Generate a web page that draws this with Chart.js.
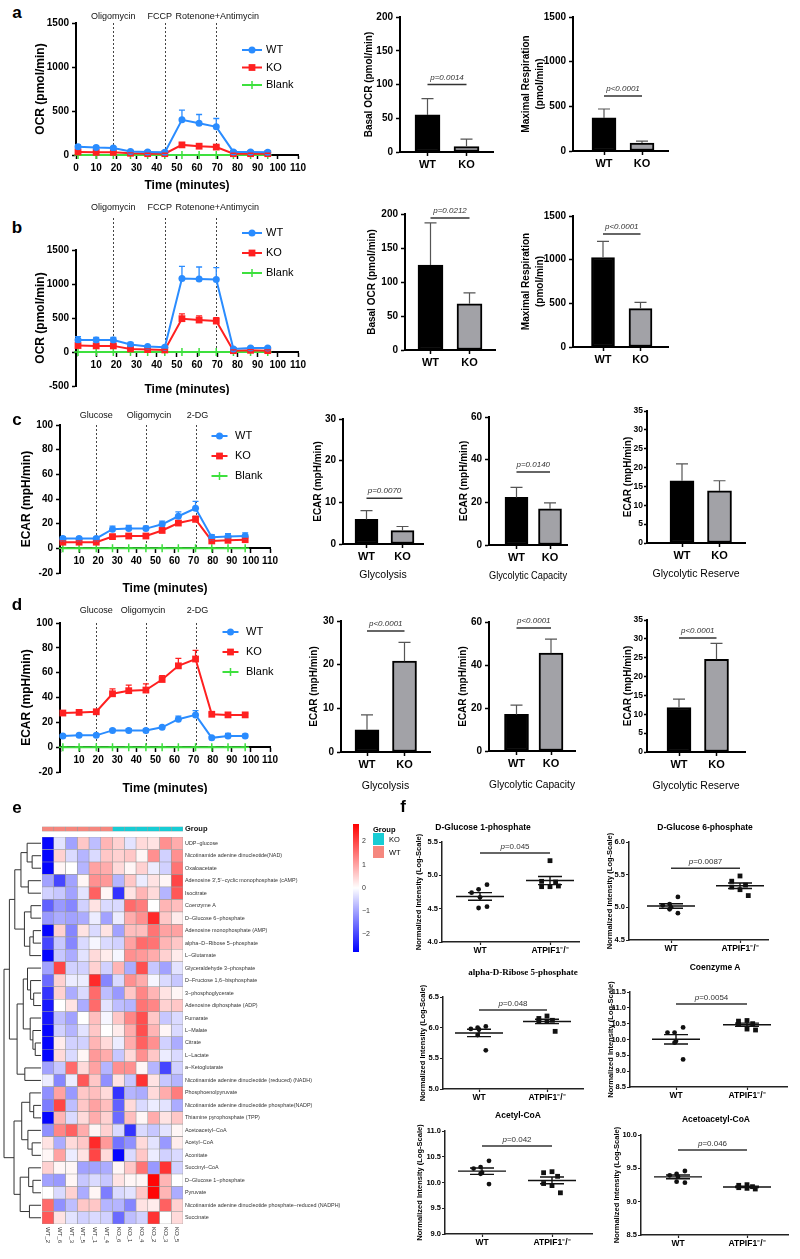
<!DOCTYPE html>
<html>
<head>
<meta charset="utf-8">
<script src="https://cdn.jsdelivr.net/npm/chart.js@4.4.1/dist/chart.umd.min.js"></script>
<style>
  body { margin: 0; background: #fff; }
  #fig { position: relative; width: 800px; height: 1259px; overflow: hidden; }
  #fig canvas { position: absolute; }
  .t { position: absolute; white-space: nowrap; line-height: 1; color: #000; }
  .sw { position: absolute; }
</style>
</head>
<body>
<div id="fig"></div>
<script>
// ---------- data ----------
const groups = ['WT', 'KO'];
const fGroups = ['WT', 'ATPIF1\u207B/\u207B'];

// a, b: OCR time courses
const timeOCR = [1, 10, 18.5, 27, 35.5, 44, 52.5, 61, 69.5, 78, 86.5, 95];
const ocrA_WT = [95, 85, 80, 40, 35, 30, 400, 360, 320, 35, 35, 30];
const ocrA_WT_err = [20, 15, 15, 10, 8, 8, 110, 100, 95, 10, 10, 8];
const ocrA_KO = [35, 30, 30, 20, 15, 15, 115, 100, 90, 15, 15, 15];
const ocrA_KO_err = [8, 8, 8, 5, 5, 5, 20, 15, 15, 5, 5, 5];
const ocrB_WT = [175, 175, 175, 110, 80, 70, 1080, 1075, 1065, 45, 60, 60];
const ocrB_WT_err = [50, 40, 40, 30, 15, 15, 180, 175, 175, 15, 15, 15];
const ocrB_KO = [95, 90, 90, 45, 35, 30, 490, 470, 455, 20, 25, 20];
const ocrB_KO_err = [20, 20, 20, 15, 10, 10, 70, 60, 50, 10, 10, 10];
const blankLine = [0, 0, 0, 0, 0, 0, 0, 0, 0, 0, 0, 0];

// c, d: ECAR time courses
const timeECAR = [1.5, 10, 19, 27.5, 36, 45, 53.5, 62, 71, 79.5, 88, 97];
const ecarC_WT = [8, 8, 8, 15.5, 16, 16, 19.5, 26, 32.5, 9, 9.5, 10];
const ecarC_WT_err = [1.5, 1, 1, 2.5, 2.5, 2, 2.5, 3.5, 5.5, 2, 2.5, 2.5];
const ecarC_KO = [5, 5, 5, 9.5, 10, 10, 14.5, 20.5, 23.5, 6, 6.5, 7];
const ecarC_KO_err = [1, 1, 1, 1.5, 1.5, 1.5, 2, 2, 2.5, 1, 1, 1];
const ecarD_WT = [9, 9.5, 9.5, 13.5, 13.5, 13.5, 16, 22.5, 26, 7.5, 9, 9];
const ecarD_WT_err = [1, 1, 1, 1, 1.5, 1.5, 1, 2.5, 3.5, 1, 2, 1.5];
const ecarD_KO = [27.5, 28, 28.5, 43, 45.5, 46, 54.5, 65.5, 71, 26.5, 26, 26];
const ecarD_KO_err = [1.5, 1, 1, 4, 4.5, 5, 3, 6, 7, 1, 1, 1];

// bar summaries [WT, KO]
const basalA = [55, 8], basalA_err = [24, 11];
const maxRespA = [370, 90], maxRespA_err = [100, 20];
const basalB = [125, 68], basalB_err = [62, 16];
const maxRespB = [1025, 440], maxRespB_err = [185, 70];
const glycoC = [5.9, 3.2], glycoC_err = [2.1, 1.0];
const capC = [22.3, 17], capC_err = [4.7, 2.7];
const resC = [16.5, 13.8], resC_err = [4.5, 2.7];
const glycoD = [5.1, 20.8], glycoD_err = [3.4, 4.3];
const capD = [17, 45.5], capD_err = [4.3, 6.5];
const resD = [11.8, 24.6], resD_err = [2.2, 4.2];

// e: heatmap
const sampleNames = ['WT_2', 'WT_6', 'WT_3', 'WT_5', 'WT_1', 'WT_4', 'KO_6', 'KO_1', 'KO_4', 'KO_2', 'KO_3', 'KO_5'];
const sampleGroup = ['WT', 'WT', 'WT', 'WT', 'WT', 'WT', 'KO', 'KO', 'KO', 'KO', 'KO', 'KO'];
const rowNames = ['UDP\u2212glucose', 'Nicotinamide adenine dinucleotide(NAD)', 'Oxaloacetate',
  "Adenosine 3',5'\u2212cyclic monophosphate (cAMP)", 'Isocitrate', 'Coenzyme A', 'D\u2212Glucose 6\u2212phosphate',
  'Adenosine monophosphate (AMP)', 'alpha\u2212D\u2212Ribose 5\u2212phosphate', 'L\u2212Glutamate',
  'Glyceraldehyde 3\u2212phosphate', 'D\u2212Fructose 1,6\u2212bisphosphate', '3\u2212phosphoglycerate',
  'Adenosine diphosphate (ADP)', 'Fumarate', 'L\u2212Malate', 'Citrate', 'L\u2212Lactate', 'a\u2212Ketoglutarate',
  'Nicotinamide adenine dinucleotide (reduced) (NADH)', 'Phosphoenolpyruvate',
  'Nicotinamide adenine dinucleotide phosphate(NADP)', 'Thiamine pyrophosphate (TPP)', 'Acetoacetyl\u2212CoA',
  'Acetyl\u2212CoA', 'Aconitate', 'Succinyl\u2212CoA', 'D\u2212Glucose 1\u2212phosphate', 'Pyruvate',
  'Nicotinamide adenine dinucleotide phosphate\u2212reduced (NADPH)', 'Succinate'];
const heatValues = [
  [-2.7, -0.3, -1.0, 0.6, -0.7, 0.8, 0.5, -0.3, 0.4, 0.3, 1.2, 0.9],
  [-2.7, 0.5, -0.4, -0.8, -0.4, 0.6, 0.5, 0.6, 0.1, 1.2, -0.5, 1.2],
  [-2.7, 0.1, 0.0, -0.8, 1.0, 0.9, 0.4, 0.1, 0.5, -0.2, -0.5, 1.5],
  [-1.0, -2.0, -1.0, 0.1, 1.2, 1.1, -0.8, 0.6, -0.2, 0.3, 0.1, 2.0],
  [-0.5, -0.6, -1.0, -0.3, 1.7, 0.1, -2.2, 0.3, 0.8, 0.4, -0.8, 1.8],
  [-1.7, -1.1, -1.3, -0.5, 0.3, -0.4, -0.4, 1.6, 1.4, 0.0, 0.8, 0.7],
  [-1.1, -0.9, -1.0, -0.9, -0.2, -1.0, -0.2, 0.9, 1.2, 2.3, 0.6, 0.2],
  [-2.7, 0.5, -1.3, 0.3, -0.4, 0.3, -1.0, 0.7, 0.7, 1.5, 1.0, 1.0],
  [-2.0, -0.6, -1.3, -0.4, -0.1, -0.4, -0.5, 1.0, 1.6, 1.5, 0.8, 0.6],
  [-2.7, -0.6, -0.9, -0.3, 0.4, 0.2, -0.1, 1.2, 1.1, 0.9, 0.5, 0.2],
  [-1.0, 2.0, -0.5, -0.5, 0.5, -0.5, 0.8, -0.9, 1.9, -0.6, -1.0, -0.3],
  [-1.6, 0.5, -0.2, -0.2, 2.3, -1.3, -0.4, 1.2, 0.9, -0.1, -0.4, -0.6],
  [-2.2, 0.5, -0.9, -0.4, 1.6, -0.7, -1.1, 0.6, 1.3, 0.8, 0.3, 0.1],
  [-2.5, 0.0, 0.3, -0.9, 1.6, -0.3, -0.7, -0.8, 1.5, 1.3, 0.5, 0.6],
  [-2.5, -0.7, -1.0, 0.0, 0.7, -0.1, 0.6, 1.3, 1.9, 0.6, -0.6, -0.4],
  [-2.7, -0.5, -0.8, -0.3, 0.6, 0.0, 0.2, 0.9, 1.9, 0.8, 0.1, -0.4],
  [-2.7, 0.2, -0.5, -0.5, 0.8, 0.4, -0.2, 0.9, 1.7, 1.2, -0.5, -0.9],
  [-2.7, 0.4, -0.4, 0.1, 1.1, 0.9, -0.6, 0.4, 1.2, 0.6, -0.2, -0.4],
  [-1.0, -0.6, 1.6, 0.4, 1.0, -0.8, 1.2, 1.2, 0.1, -0.8, -2.0, -0.5],
  [-0.2, -1.3, -0.2, 1.8, 0.6, -1.2, 0.3, -0.6, 2.2, 0.3, -0.6, -0.8],
  [-1.2, 1.0, -1.1, 0.6, 0.7, 0.4, -2.2, -0.8, -0.9, 0.4, 0.9, 1.4],
  [-1.4, 2.0, -0.7, 0.6, 1.0, 0.7, -1.7, 0.4, -0.4, -0.2, -0.3, -0.9],
  [-2.7, 0.8, -0.4, 0.4, 0.9, 0.5, -1.6, 0.7, 0.1, 0.9, 0.3, 0.6],
  [-1.2, 1.3, 1.7, 0.9, 0.1, 0.5, -0.4, -2.2, -0.4, -0.6, -0.3, 0.1],
  [0.3, -0.9, 0.4, 0.6, 2.3, 1.1, -1.5, -1.2, 0.4, -0.3, -1.1, 0.2],
  [0.1, 1.0, -0.2, 0.3, 2.0, 0.4, -2.7, -0.4, 0.6, -0.2, -0.5, -0.4],
  [0.5, 0.1, 0.1, -1.0, -1.0, -0.9, 0.1, 0.6, 1.5, -1.1, 2.2, -0.5],
  [-1.0, -1.1, 0.1, -0.6, -0.4, -0.6, 0.3, 0.1, 0.1, 2.7, 0.8, 0.0],
  [0.0, -0.4, 0.5, -0.9, 0.1, -1.4, -0.4, -0.3, 0.6, 2.7, 0.8, -0.9],
  [1.6, -1.2, -0.7, 0.6, 0.6, -0.8, -0.8, -1.3, 0.3, 0.2, 1.7, 0.5],
  [1.8, 0.3, -0.3, -0.5, -0.4, -0.5, -1.6, -0.7, -0.5, 2.2, 0.0, 0.4]
];
const heatLimit = 2.75;
const heatTicks = [-2, -1, 0, 1, 2];
// row clustering: [height, left, right], leaves are row indices
const dendroTree = [9.6,
  [8.2,
    [6.8,
      [5.2, [3.6, 0, [2.3, 1, 2]], [3.3, 3, 4]],
      [4.3, [2.6, 5, 6], [2.9, [2.0, 7, 8], 9]]],
    [6.2,
      [4.6, [3.5, 10, [2.7, 11, [1.9, 12, 13]]], [2.8, 14, [2.1, 15, [1.5, 16, 17]]]],
      [4.2, 18, 19]]],
  [7.0,
    [5.0, [2.9, 20, [1.9, 21, 22]], [3.4, 23, [2.3, 24, 25]]],
    [5.4, [3.2, 26, [2.1, 27, 28]], [3.0, 29, 30]]]];

// f: metabolite dot plots
const g1p_WT = [4.86, 4.79, 4.74, 4.67, 4.51, 4.53], g1p_KO = [5.22, 4.91, 4.90, 4.83, 4.83, 4.84];
const g6p_WT = [5.16, 5.05, 5.03, 5.00, 4.97, 4.91], g6p_KO = [5.48, 5.40, 5.34, 5.31, 5.27, 5.18];
const r5p_WT = [6.02, 6.00, 5.98, 5.97, 5.88, 5.63], r5p_KO = [6.19, 6.15, 6.12, 6.11, 6.10, 5.94];
const coa_WT = [10.38, 10.22, 10.22, 9.95, 9.90, 9.37], coa_KO = [10.60, 10.58, 10.50, 10.48, 10.33, 10.30];
const accoa_WT = [10.42, 10.30, 10.27, 10.19, 10.17, 9.97], accoa_KO = [10.21, 10.19, 10.12, 9.98, 9.94, 9.80];
const acac_WT = [9.46, 9.415, 9.395, 9.375, 9.30, 9.285], acac_KO = [9.255, 9.245, 9.225, 9.21, 9.20, 9.19];
const jitterWT = [0.1, -0.02, -0.12, 0.0, -0.02, 0.1];
const jitterKO = [0.0, -0.12, 0.08, -0.12, 0.0, 0.12];

// ---------- helpers ----------
const FONT = '"Liberation Sans", Arial, Helvetica, sans-serif';
const COL = { wt: '#2a8cff', ko: '#ff2020', blank: '#3ee03e', wtBar: '#000000', koBar: '#a2a2a7' };
Chart.defaults.font.family = FONT;
Chart.defaults.font.size = 10;
Chart.defaults.font.weight = 'bold';
Chart.defaults.color = '#000';
Chart.defaults.plugins.legend.display = false;
Chart.defaults.plugins.tooltip.enabled = false;

const FIG = document.getElementById('fig');

function txt(html, x, y, font, align) {
  const d = document.createElement('div');
  d.className = 't';
  d.style.left = x + 'px';
  d.style.top = y + 'px';
  d.style.font = font;
  d.style.transform = align === 'left' ? 'translate(0,-50%)' : 'translate(-50%,-50%)';
  d.innerHTML = html;
  FIG.appendChild(d);
}

function place(x, y, w, h) {
  const c = document.createElement('canvas');
  c.width = w; c.height = h;
  c.style.left = x + 'px'; c.style.top = y + 'px';
  c.style.width = w + 'px'; c.style.height = h + 'px';
  FIG.appendChild(c);
  return c;
}

// plot = chart area in page px, m = [left, top, right, bottom] margins
function makeChart(plot, m, cfg, xh) {
  const [x0, y0, x1, y1] = plot, [l, t, r, b] = m;
  const c = place(x0 - l, y0 - t, x1 - x0 + l + r, y1 - y0 + t + b);
  const o = cfg.options;
  o.responsive = false; o.animation = false; o.devicePixelRatio = 1;
  o.layout = { padding: { left: 0, top: t, right: r, bottom: xh === undefined ? 0 : b } };
  o.scales.y.afterFit = s => { s.width = l; };
  o.scales.x.afterFit = s => { s.height = xh === undefined ? b : xh; };
  return new Chart(c, cfg);
}

function axis(extra, thin, tl) {
  return Object.assign({
    offset: false,
    grid: { drawOnChartArea: false, drawTicks: true, tickLength: tl || (thin ? 3 : 4), tickColor: thin ? '#222' : '#000', tickWidth: thin ? 1.2 : 1.5, offset: false },
    border: { display: true, color: thin ? '#222' : '#000', width: thin ? 1.5 : 2 }
  }, extra);
}

function marker(ctx, style, x, y, r) {
  if (style === 'circle') { ctx.beginPath(); ctx.arc(x, y, r, 0, Math.PI * 2); ctx.fill(); }
  else if (style === 'rect') { const h = r * Math.SQRT1_2; ctx.fillRect(x - h, y - h, 2 * h, 2 * h); }
  else {
    ctx.lineWidth = 1.5; ctx.beginPath();
    ctx.moveTo(x - r, y); ctx.lineTo(x + r, y); ctx.moveTo(x, y - r); ctx.lineTo(x, y + r); ctx.stroke();
  }
}

// error bars (upper only) from dataset.errors
Chart.register({
  id: 'errorBars',
  afterDatasetsDraw(chart) {
    const ctx = chart.ctx, ys = chart.scales.y;
    chart.data.datasets.forEach((ds, i) => {
      if (!ds.errors) return;
      const meta = chart.getDatasetMeta(i);
      ctx.save();
      ctx.strokeStyle = ds.errorColor || ds.borderColor;
      ctx.lineWidth = ds.errorWidth || 1.2;
      meta.data.forEach((el, j) => {
        const v = ds.data[j], val = typeof v === 'object' ? v.y : v;
        const top = ys.getPixelForValue(val + ds.errors[j]);
        const cw = ds.capWidth || 4;
        ctx.beginPath();
        ctx.moveTo(el.x, el.y); ctx.lineTo(el.x, top);
        ctx.moveTo(el.x - cw, top); ctx.lineTo(el.x + cw, top);
        ctx.stroke();
      });
      ctx.restore();
    });
  }
});

function sigPlugin(s) {
  return {
    id: 'sig',
    afterDraw(chart) {
      const { ctx, scales: { x, y } } = chart;
      const py = y.getPixelForValue(s.y), xa = x.getPixelForValue(1), xb = x.getPixelForValue(2);
      ctx.save();
      ctx.strokeStyle = '#333'; ctx.lineWidth = 1.5;
      ctx.beginPath(); ctx.moveTo(xa, py); ctx.lineTo(xb, py); ctx.stroke();
      ctx.fillStyle = '#333'; ctx.textBaseline = 'bottom'; ctx.textAlign = 'left';
      const f1 = `italic normal ${s.size}px ${FONT}`, f2 = s.allItalic ? f1 : `normal normal ${s.size}px ${FONT}`;
      const rest = s.text.slice(1);
      ctx.font = f1; const w1 = ctx.measureText('p').width;
      ctx.font = f2; const w2 = ctx.measureText(rest).width;
      const x0 = (xa + xb) / 2 - (w1 + w2) / 2;
      ctx.font = f1; ctx.fillText('p', x0, py - s.gap);
      ctx.font = f2; ctx.fillText(rest, x0 + w1, py - s.gap);
      ctx.restore();
    }
  };
}

function injectPlugin(s) {
  return {
    id: 'inject',
    beforeDatasetsDraw(chart) {
      const { ctx, chartArea: ca, scales: { x, y } } = chart;
      ctx.save();
      ctx.strokeStyle = '#444'; ctx.lineWidth = 1; ctx.setLineDash([2, 2]);
      s.times.forEach(t => {
        const px = Math.round(x.getPixelForValue(t)) + 0.5;
        ctx.beginPath(); ctx.moveTo(px, ca.top + s.lineTop); ctx.lineTo(px, y.getPixelForValue(0)); ctx.stroke();
      });
      ctx.restore();
    },
    afterDraw(chart) {
      const { ctx, chartArea: ca, scales: { x } } = chart;
      ctx.save();
      ctx.fillStyle = '#111'; ctx.font = `normal 9px ${FONT}`;
      ctx.textAlign = 'center'; ctx.textBaseline = 'middle';
      s.labels.forEach((lab, i) => ctx.fillText(lab, x.getPixelForValue(s.times[i]) + s.dx[i], ca.top + s.labelTop));
      ctx.restore();
    }
  };
}

function legendPlugin(s) {
  return {
    id: 'lgd',
    afterDraw(chart) {
      const { ctx, chartArea: ca } = chart;
      chart.data.datasets.forEach((ds, i) => {
        const cx = ca.left + s.x, cy = ca.top + s.y + i * s.dy;
        ctx.save();
        ctx.strokeStyle = ds.borderColor; ctx.fillStyle = ds.borderColor; ctx.lineWidth = 2;
        ctx.beginPath(); ctx.moveTo(cx - s.len / 2, cy); ctx.lineTo(cx + s.len / 2, cy); ctx.stroke();
        marker(ctx, ds.pointStyle, cx, cy, ds.pointRadius);
        ctx.fillStyle = '#000'; ctx.font = `normal 11px ${FONT}`;
        ctx.textAlign = 'left'; ctx.textBaseline = 'middle';
        ctx.fillText(ds.label, cx + s.tx, cy);
        ctx.restore();
      });
    }
  };
}

function meanSemPlugin(s) {
  return {
    id: 'msem',
    afterDatasetsDraw(chart) {
      const { ctx, scales: { x, y } } = chart;
      ctx.save(); ctx.strokeStyle = '#111'; ctx.lineWidth = 1.4;
      chart.data.datasets.forEach(ds => {
        const v = ds.data.map(p => p.y), n = v.length;
        const mean = v.reduce((a, b) => a + b, 0) / n;
        const sem = Math.sqrt(v.reduce((a, b) => a + (b - mean) ** 2, 0) / (n - 1) / n);
        const cx = x.getPixelForValue(ds.center);
        const ym = y.getPixelForValue(mean), yh = y.getPixelForValue(mean + sem), yl = y.getPixelForValue(mean - sem);
        ctx.beginPath();
        ctx.moveTo(cx - s.mw, ym); ctx.lineTo(cx + s.mw, ym);
        ctx.moveTo(cx - s.cw, yh); ctx.lineTo(cx + s.cw, yh);
        ctx.moveTo(cx - s.cw, yl); ctx.lineTo(cx + s.cw, yl);
        ctx.moveTo(cx, yl); ctx.lineTo(cx, yh);
        ctx.stroke();
      });
      ctx.restore();
    }
  };
}

function dendroPlugin(tree, hmax, rootX) {
  return {
    id: 'dendro',
    afterDraw(chart) {
      const { ctx, chartArea: ca, scales: { y } } = chart;
      const edge = ca.left - 1, s = (edge - rootX) / hmax;
      ctx.save(); ctx.strokeStyle = '#333'; ctx.lineWidth = 1;
      const walk = n => {
        if (typeof n === 'number') return [edge, y.getPixelForValue(n)];
        const a = walk(n[1]), b = walk(n[2]), x = edge - n[0] * s;
        ctx.beginPath();
        ctx.moveTo(a[0], a[1]); ctx.lineTo(x, a[1]); ctx.lineTo(x, b[1]); ctx.lineTo(b[0], b[1]);
        ctx.stroke();
        return [x, (a[1] + b[1]) / 2];
      };
      walk(tree);
      ctx.restore();
    }
  };
}

function colLabelPlugin(labels) {
  return {
    id: 'collab',
    afterDraw(chart) {
      const { ctx, chartArea: ca, scales: { x } } = chart;
      ctx.save();
      ctx.fillStyle = '#333'; ctx.font = `normal 6px ${FONT}`;
      ctx.textAlign = 'left'; ctx.textBaseline = 'middle';
      labels.forEach((s, j) => {
        ctx.save();
        ctx.translate(x.getPixelForValue(j + 0.5), ca.bottom + 3);
        ctx.rotate(Math.PI / 2);
        ctx.fillText(s, 0, 0);
        ctx.restore();
      });
      ctx.restore();
    }
  };
}

function heatColor(v) {
  const t = Math.max(-1, Math.min(1, v / heatLimit));
  if (t < 0) { const c = Math.round(255 * (1 + t)); return `rgb(${c},${c},255)`; }
  const c = Math.round(255 * (1 - t)); return `rgb(255,${c},${c})`;
}

// ---------- chart builders ----------
function lineChart(L, times, wt, wtErr, ko, koErr, blank, yr, yTitle, inj, lg) {
  const pts = a => a.map((v, i) => ({ x: times[i], y: v }));
  const ds = (label, d, err, col, style, r) => ({
    label, data: pts(d), errors: err, borderColor: col, backgroundColor: col,
    pointBackgroundColor: col, pointBorderColor: col, borderWidth: 2, pointStyle: style,
    pointRadius: r, pointBorderWidth: style === 'cross' ? 1.5 : 0, tension: 0, clip: false,
    capWidth: 3, errorWidth: 1.3
  });
  const valuePos = yr[0] < 0;
  return makeChart(L.plot, L.m, {
    type: 'line',
    data: { datasets: [
      ds('WT', wt, wtErr, COL.wt, 'circle', 3.5),
      ds('KO', ko, koErr, COL.ko, 'rect', 4.8),
      ds('Blank', blank, null, COL.blank, 'cross', 4)
    ] },
    options: { scales: {
      x: axis({ type: 'linear', min: 0, max: 110, position: valuePos ? { y: 0 } : 'bottom',
        ticks: { stepSize: 10, autoSkip: false, maxRotation: 0, padding: 3, callback: v => (valuePos && v === 0) ? '' : String(v) },
        title: { display: true, text: 'Time (minutes)', font: { size: 12 }, padding: 0 } }),
      y: axis({ min: yr[0], max: yr[1], ticks: { stepSize: yr[2], padding: 3, callback: v => String(v) },
        title: { display: true, text: yTitle, font: { size: 12 }, padding: 0 } })
    } },
    plugins: [injectPlugin(inj), legendPlugin(lg)]
  }, L.xh);
}

function barChart(L, vals, errs, yr, yTitle, xTitle, pText) {
  const k = L.c2 - L.c1, xmin = 1 - (L.c1 - L.x0) / k, xmax = xmin + (L.x1 - L.x0) / k;
  const plugins = pText ? [sigPlugin({ y: L.sigY, text: pText, size: 8, allItalic: true, gap: 3 })] : [];
  return makeChart([L.x0, L.y0, L.x1, L.y1], L.m, {
    type: 'bar',
    data: { datasets: [{
      data: vals.map((v, i) => ({ x: i + 1, y: v })), errors: errs,
      backgroundColor: [COL.wtBar, COL.koBar], borderColor: '#000', borderWidth: 2, borderSkipped: false,
      barThickness: L.bw, errorColor: '#555', capWidth: 6, errorWidth: 1.2
    }] },
    options: { scales: {
      x: axis({ type: 'linear', min: xmin, max: xmax,
        afterBuildTicks: s => { s.ticks = [{ value: 1 }, { value: 2 }]; },
        ticks: { autoSkip: false, maxRotation: 0, padding: 2, font: { size: 11 }, callback: v => groups[v - 1] },
        title: { display: !!xTitle, text: xTitle || '', font: { size: 10.5, weight: 'normal' }, padding: 0 } }),
      y: axis({ min: yr[0], max: yr[1],
        ticks: { stepSize: yr[2], padding: L.tp || 3, font: { size: L.tf || 10 }, callback: v => String(v) },
        title: { display: true, text: yTitle, font: { size: 10, lineHeight: 1.4 }, padding: 0 } }, false, L.tl)
    } },
    plugins
  });
}

function dotChart(L, wt, ko, yr, pText) {
  const k = L.c2 - L.c1, xmin = 1 - (L.c1 - L.x0) / k, xmax = xmin + (L.x1 - L.x0) / k;
  const mk = (vals, c, jit, style, r) => ({
    data: vals.map((v, i) => ({ x: c + jit[i], y: v })), center: c, pointStyle: style, pointRadius: r,
    backgroundColor: '#111', borderColor: '#111', pointBorderWidth: 0, clip: false
  });
  return makeChart([L.x0, L.y0, L.x1, L.y1], L.m, {
    type: 'scatter',
    data: { datasets: [mk(wt, 1, jitterWT, 'circle', 2.4), mk(ko, 2, jitterKO, 'rect', 3.4)] },
    options: { scales: {
      x: axis({ type: 'linear', min: xmin, max: xmax,
        afterBuildTicks: s => { s.ticks = [{ value: 1 }, { value: 2 }]; },
        ticks: { autoSkip: false, maxRotation: 0, padding: 1, font: { size: 8.5 }, callback: v => fGroups[v - 1] } }, true),
      y: axis({ min: yr[0], max: yr[1], ticks: { stepSize: 0.5, padding: 1, font: { size: 7.5 }, callback: v => v.toFixed(1) },
        title: { display: true, text: 'Normalized Intensity (Log-Scale)', font: { size: 7.5 }, padding: 0 } }, true)
    } },
    plugins: [meanSemPlugin({ mw: 24, cw: 12 }), sigPlugin({ y: L.sigY, text: pText, size: 8, allItalic: false, gap: 2 })]
  });
}

// ---------- panels a-d ----------
lineChart({ plot: [76, 23, 298, 155], m: [43, 13, 14, 38] }, timeOCR,
  ocrA_WT, ocrA_WT_err, ocrA_KO, ocrA_KO_err, blankLine, [0, 1500, 500], 'OCR (pmol/min)',
  { times: [18.5, 44, 69.5], labels: ['Oligomycin', 'FCCP', 'Rotenone+Antimycin'], dx: [0, -5, 1], lineTop: 0, labelTop: -6 },
  { x: 176, y: 27, dy: 17.5, len: 20, tx: 14 });

lineChart({ plot: [76, 250, 298, 389], m: [43, 50, 14, 6], xh: 45 }, timeOCR,
  ocrB_WT, ocrB_WT_err, ocrB_KO, ocrB_KO_err, blankLine, [-500, 1500, 500], 'OCR (pmol/min)',
  { times: [18.5, 44, 69.5], labels: ['Oligomycin', 'FCCP', 'Rotenone+Antimycin'], dx: [0, -5, 1], lineTop: -32, labelTop: -42 },
  { x: 176, y: -17, dy: 20, len: 20, tx: 14 });

lineChart({ plot: [60, 425, 270, 573], m: [41, 16, 14, 25], xh: 48 }, timeECAR,
  ecarC_WT, ecarC_WT_err, ecarC_KO, ecarC_KO_err, blankLine, [-20, 100, 20], 'ECAR (mpH/min)',
  { times: [19, 45, 71], labels: ['Glucose', 'Oligomycin', '2-DG'], dx: [0, 3, 2], lineTop: 0, labelTop: -9 },
  { x: 159.5, y: 11, dy: 20, len: 16, tx: 15.5 });

lineChart({ plot: [60, 623, 270, 772], m: [41, 20, 14, 22], xh: 49 }, timeECAR,
  ecarD_WT, ecarD_WT_err, ecarD_KO, ecarD_KO_err, blankLine, [-20, 100, 20], 'ECAR (mpH/min)',
  { times: [19, 45, 71], labels: ['Glucose', 'Oligomycin', '2-DG'], dx: [0, -3, 2], lineTop: 0, labelTop: -12 },
  { x: 170.5, y: 9, dy: 20, len: 16, tx: 15.5 });

barChart({ x0: 400, y0: 17, x1: 493, y1: 152, c1: 427.5, c2: 466.5, bw: 25, m: [38, 10, 6, 20], sigY: 100 },
  basalA, basalA_err, [0, 200, 50], 'Basal OCR (pmol/min)', null, 'p=0.0014');
barChart({ x0: 573, y0: 17, x1: 668, y1: 151, c1: 604, c2: 642, bw: 24, m: [54, 10, 6, 20], sigY: 615 },
  maxRespA, maxRespA_err, [0, 1500, 500], ['Maximal Respiration', '(pmol/min)'], null, 'p<0.0001');
barChart({ x0: 405, y0: 214, x1: 495, y1: 350, c1: 430.5, c2: 469.5, bw: 25, m: [40, 15, 6, 20], sigY: 194 },
  basalB, basalB_err, [0, 200, 50], 'Basal OCR (pmol/min)', null, 'p=0.0212');
barChart({ x0: 573, y0: 216, x1: 668, y1: 347, c1: 603, c2: 640.5, bw: 23, m: [54, 10, 6, 20], sigY: 1294 },
  maxRespB, maxRespB_err, [0, 1500, 500], ['Maximal Respiration', '(pmol/min)'], null, 'p<0.0001');

barChart({ x0: 343, y0: 419, x1: 423, y1: 544, c1: 366.5, c2: 402.5, bw: 23, m: [32, 10, 6, 37], sigY: 11 },
  glycoC, glycoC_err, [0, 30, 10], 'ECAR (mpH/min)', 'Glycolysis', 'p=0.0070');
barChart({ x0: 489, y0: 417, x1: 567, y1: 545, c1: 516.5, c2: 550, bw: 23, m: [32, 10, 6, 37], sigY: 34.2 },
  capC, capC_err, [0, 60, 20], 'ECAR (mpH/min)', 'Glycolytic Capacity', 'p=0.0140');
barChart({ x0: 647, y0: 411, x1: 745, y1: 543, c1: 682, c2: 719.5, bw: 24, m: [26, 10, 6, 37], tf: 8.5, tp: 1, tl: 3 },
  resC, resC_err, [0, 35, 5], 'ECAR (mpH/min)', 'Glycolytic Reserve', null);

barChart({ x0: 341, y0: 621, x1: 430, y1: 752, c1: 367, c2: 404.5, bw: 24, m: [34, 10, 6, 40], sigY: 27.7 },
  glycoD, glycoD_err, [0, 30, 10], 'ECAR (mpH/min)', 'Glycolysis', 'p<0.0001');
barChart({ x0: 489, y0: 622, x1: 575, y1: 751, c1: 516.5, c2: 551, bw: 24, m: [33, 10, 6, 40], sigY: 57.2 },
  capD, capD_err, [0, 60, 20], 'ECAR (mpH/min)', 'Glycolytic Capacity', 'p<0.0001');
barChart({ x0: 647, y0: 620, x1: 745, y1: 752, c1: 679, c2: 716.5, bw: 24, m: [26, 10, 6, 40], sigY: 30.2, tf: 8.5, tp: 1, tl: 3 },
  resD, resD_err, [0, 35, 5], 'ECAR (mpH/min)', 'Glycolytic Reserve', 'p<0.0001');

// ---------- panel e: heatmap ----------
new Chart(place(0, 830, 360, 425), {
  type: 'bar',
  data: {
    labels: rowNames,
    datasets: sampleNames.map((nm, j) => ({
      label: nm, data: rowNames.map(() => 1),
      backgroundColor: heatValues.map(r => heatColor(r[j])),
      borderColor: '#9b9b9b', borderWidth: 0.6, borderSkipped: false,
      barPercentage: 1, categoryPercentage: 1
    }))
  },
  options: {
    indexAxis: 'y', responsive: false, animation: false, devicePixelRatio: 1,
    layout: { padding: { left: 42, top: 7, right: 0, bottom: 31 } },
    scales: {
      x: { stacked: true, min: 0, max: 12, display: false },
      y: { stacked: true, position: 'right', afterFit: s => { s.width = 177; },
        grid: { display: false, tickLength: 0 }, border: { display: false },
        ticks: { autoSkip: false, padding: 2, color: '#333', font: { size: 5.4, weight: 'normal' } } }
    }
  },
  plugins: [dendroPlugin(dendroTree, 9.6, 4), colLabelPlugin(sampleNames)]
});

new Chart(place(0, 820, 360, 18), {
  type: 'bar',
  data: {
    labels: ['Group'],
    datasets: sampleGroup.map(g => ({
      data: [1], backgroundColor: g === 'WT' ? '#f5877e' : '#17ccd4',
      borderColor: '#9b9b9b', borderWidth: 0.6, borderSkipped: false, barPercentage: 1, categoryPercentage: 1
    }))
  },
  options: {
    indexAxis: 'y', responsive: false, animation: false, devicePixelRatio: 1,
    layout: { padding: { left: 42, top: 5, right: 0, bottom: 5 } },
    scales: {
      x: { stacked: true, min: 0, max: 12, display: false },
      y: { stacked: true, position: 'right', afterFit: s => { s.width = 177; },
        grid: { display: false, tickLength: 0 }, border: { display: false },
        ticks: { padding: 2, color: '#111', font: { size: 7.5, weight: 'bold' } } }
    }
  }
});

// colour key
new Chart(place(348, 815, 32, 145), {
  type: 'bar',
  data: {
    labels: [''],
    datasets: [{
      data: [[-heatLimit, heatLimit]], borderWidth: 0, barPercentage: 1, categoryPercentage: 1,
      backgroundColor: c => {
        const ch = c.chart, ys = ch.scales.y;
        if (!ys || !ch.chartArea) return '#fff';
        const g = ch.ctx.createLinearGradient(0, ys.getPixelForValue(heatLimit), 0, ys.getPixelForValue(-heatLimit));
        g.addColorStop(0, heatColor(heatLimit)); g.addColorStop(0.5, heatColor(0)); g.addColorStop(1, heatColor(-heatLimit));
        return g;
      }
    }]
  },
  options: {
    responsive: false, animation: false, devicePixelRatio: 1,
    layout: { padding: { left: 5, top: 9, right: 0, bottom: 8 } },
    scales: {
      x: { display: false },
      y: { position: 'right', min: -heatLimit, max: heatLimit, afterFit: s => { s.width = 21; },
        afterBuildTicks: s => { s.ticks = heatTicks.map(v => ({ value: v })); },
        grid: { display: false, tickLength: 0 }, border: { display: false },
        ticks: { padding: 3, color: '#333', font: { size: 7, weight: 'normal' }, callback: v => v < 0 ? '\u2212' + (-v) : String(v) } }
    }
  }
});

// ---------- panel f: dot plots ----------
dotChart({ x0: 442, y0: 842, x1: 579, y1: 942, c1: 480, c2: 550, m: [28, 20, 8, 22], sigY: 5.335 }, g1p_WT, g1p_KO, [4.0, 5.5], 'p=0.045');
dotChart({ x0: 629, y0: 842, x1: 768, y1: 940, c1: 671, c2: 740, m: [24, 20, 8, 22], sigY: 5.60 }, g6p_WT, g6p_KO, [4.5, 6.0], 'p=0.0087');
dotChart({ x0: 443, y0: 997, x1: 583, y1: 1089, c1: 479, c2: 547, m: [25, 25, 8, 22], sigY: 6.29 }, r5p_WT, r5p_KO, [5.0, 6.5], 'p=0.048');
dotChart({ x0: 630, y0: 992, x1: 787, y1: 1087, c1: 676, c2: 747, m: [24, 25, 8, 22], sigY: 11.12 }, coa_WT, coa_KO, [8.5, 11.5], 'p=0.0054');
dotChart({ x0: 445, y0: 1131, x1: 592, y1: 1234, c1: 482, c2: 552, m: [30, 22, 8, 22], sigY: 10.71 }, accoa_WT, accoa_KO, [9.0, 11.0], 'p=0.042');
dotChart({ x0: 641, y0: 1135, x1: 788, y1: 1235, c1: 678, c2: 747, m: [29, 22, 8, 22], sigY: 9.775 }, acac_WT, acac_KO, [8.5, 10.0], 'p=0.046');

// ---------- text ----------
const letterFont = `bold 17px ${FONT}`;
txt('a', 17, 13, letterFont);
txt('b', 17, 228, letterFont);
txt('c', 17, 420, letterFont);
txt('d', 17, 605, letterFont);
txt('e', 17, 808, letterFont);
txt('f', 403, 807, letterFont);

const fTitle = `bold 8.5px ${FONT}`;
txt('D-Glucose 1-phosphate', 483, 827, fTitle);
txt('D-Glucose 6-phosphate', 705, 827, fTitle);
txt('alpha-D-Ribose 5-phosphate', 523, 972, 'bold 9px "Liberation Serif", "Times New Roman", serif');
txt('Coenzyme A', 715, 967, fTitle);
txt('Acetyl-CoA', 518, 1115, fTitle);
txt('Acetoacetyl-CoA', 716, 1119, fTitle);

txt('Group', 373, 828.5, `bold 7.5px ${FONT}`, 'left');
[['KO', '#17ccd4', 833], ['WT', '#f5877e', 846]].forEach(([lab, col, y]) => {
  const d = document.createElement('div');
  d.className = 'sw';
  Object.assign(d.style, { left: '373px', top: y + 'px', width: '11px', height: '12px', background: col });
  FIG.appendChild(d);
  txt(lab, 389, y + 6, `normal 7.5px ${FONT}`, 'left');
});
</script>
</body>
</html>
